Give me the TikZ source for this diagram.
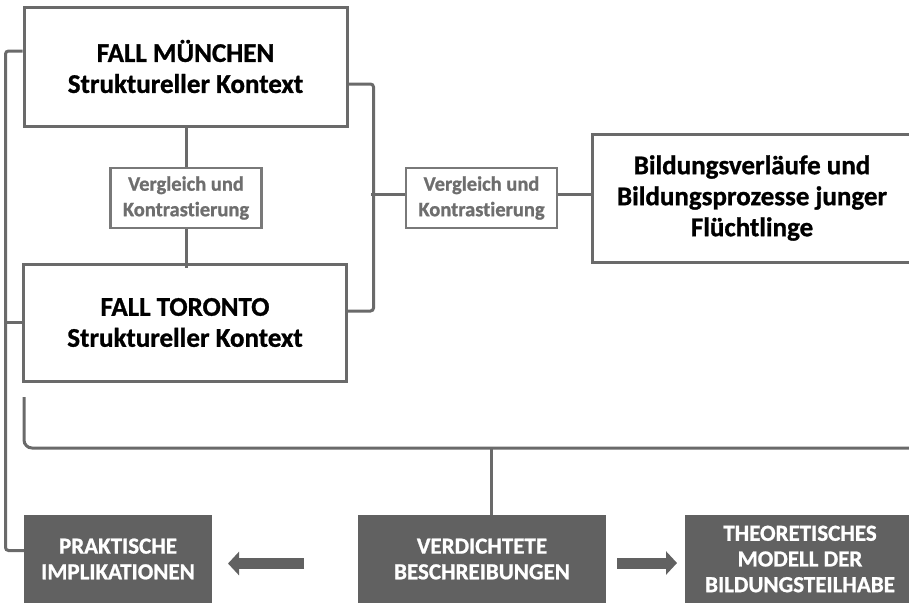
\documentclass[tikz,border=0pt]{standalone}
\usepackage{fontspec}
\setmainfont{Carlito}[Ligatures=NoCommon,BoldFeatures={FakeBold=1}]
\usetikzlibrary{arrows.meta}
\definecolor{linegray}{HTML}{6A6A6A}
\definecolor{boxfill}{HTML}{616161}
\definecolor{vgtext}{HTML}{6E6E6E}
\begin{document}
\begin{tikzpicture}[x=1pt,y=-1pt,
  mainbox/.style={draw=linegray,line width=3pt,fill=white,inner sep=0pt,align=center,
    font=\bfseries\fontsize{27}{31}\selectfont,text=black},
  vgbox/.style={draw=linegray!90,line width=2.6pt,fill=white,inner sep=0pt,align=center,
    minimum width=151pt,minimum height=60pt,font=\bfseries\fontsize{20.5}{25.5}\selectfont,text=vgtext},
  darkbox/.style={fill=boxfill,draw=none,inner sep=0pt,align=center,minimum height=88pt,
    font=\bfseries\fontsize{23}{25.7}\selectfont,text=white},
  conn/.style={draw=linegray,line width=3pt,rounded corners=3pt},
  blk/.style={draw=boxfill,line width=11pt,-{Triangle[length=11pt,width=23pt]}}]
\useasboundingbox (0,0) rectangle (909,603);

\node[mainbox,minimum width=323pt,minimum height=119pt] (mu) at (185.5,66.5) {FALL MÜNCHEN\\Struktureller Kontext};
\node[mainbox,minimum width=323pt,minimum height=117pt] (to) at (185,322.5) {FALL TORONTO\\Struktureller Kontext};
\node[vgbox] (v1) at (186,198) {Vergleich und\\Kontrastierung};
\node[vgbox] (v2) at (481.5,198) {Vergleich und\\Kontrastierung};
\node[mainbox,minimum width=320pt,minimum height=128pt] (bi) at (752,198) {Bildungsverläufe und\\Bildungsprozesse junger\\Flüchtlinge};
\node[darkbox,minimum width=188pt] (pi) at (118,559) {PRAKTISCHE\\IMPLIKATIONEN};
\node[darkbox,minimum width=248pt] (vb) at (482,559) {VERDICHTETE\\BESCHREIBUNGEN};
\node[darkbox,minimum width=230pt] (th) at (800,559) {THEORETISCHES\\MODELL DER\\BILDUNGSTEILHABE};

% vertical connectors Muenchen - Vergleich - Toronto
\draw[conn] (v1.north) -- (v1.north |- mu.south);
\draw[conn] (v1.south) -- ([yshift=-5pt]v1.south |- to.north);

% left bracket
\draw[conn] ([yshift=15.5pt]mu.west) -- ++(-17pt,0) |- ([yshift=8.5pt]pi.west);
\draw[conn] (to.west) -- ++(-17pt,0);

% right bracket
\draw[conn] ([yshift=-17.5pt]mu.east) -- ++(25pt,0) |- ([yshift=11.5pt]to.east);
\draw[conn] ([yshift=4pt]v2.west) -- ++(-34pt,0);
\draw[conn] ([yshift=4pt]v2.east) -- ([yshift=4pt]v2.east -| bi.west);

% bottom bracket
\coordinate (bb) at (24,397);
\coordinate (be) at (912,448);
\coordinate (vj) at (491,448);
\draw[conn,rounded corners=8pt] (bb) |- (be);
\draw[conn] (vj) -- (vj |- vb.north);

% block arrows
\coordinate (la) at (304,563.5);
\coordinate (lt) at (228,563.5);
\coordinate (ra) at (617,563);
\coordinate (rt) at (677,563);
\draw[blk] (la) -- (lt);
\draw[blk] (ra) -- (rt);
\end{tikzpicture}
\end{document}
